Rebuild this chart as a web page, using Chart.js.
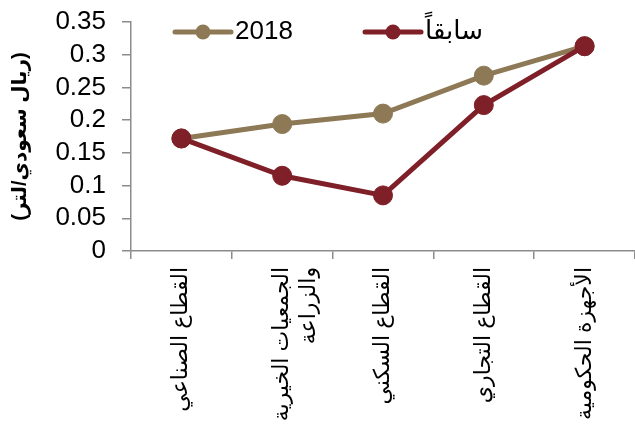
<!DOCTYPE html>
<html>
<head>
<meta charset="utf-8">
<script src="https://cdn.jsdelivr.net/npm/chart.js@4"></script>
<style>
  html, body { margin: 0; padding: 0; background: #fff; }
  #wrap { width: 635px; height: 430px; }
</style>
</head>
<body>
<div id="wrap"><canvas id="line-chart"></canvas></div>
<script>
// sectors, price per litre
const sectors = [
  "القطاع الصناعي",
  ["الجمعيات الخيرية", "والزراعة"],
  "القطاع السكني",
  "القطاع التجاري",
  "الأجهزة الحكومية",
];
const price2018 = [0.172, 0.194, 0.21, 0.268, 0.313];
const pricePrev = [0.172, 0.115, 0.085, 0.223, 0.313];
const yTicks = [0, 0.05, 0.1, 0.15, 0.2, 0.25, 0.3, 0.35];

const TAN = "#8d7955";
const RED = "#7f1f28";
const AXIS = "#8c8c8c";
const FONT = "'Liberation Sans', 'DejaVu Sans', Arial, sans-serif";

// legend: line with a dot in the middle, then the label
const lineLegend = {
  id: "lineLegend",
  afterDraw(chart) {
    const ctx = chart.ctx;
    const items = [
      { ds: 1, x: 175 },
      { ds: 0, x: 365 },
    ];
    const y = 32;
    ctx.save();
    items.forEach((it) => {
      const ds = chart.data.datasets[it.ds];
      ctx.strokeStyle = ds.borderColor;
      ctx.lineWidth = 5;
      ctx.lineCap = "round";
      ctx.beginPath();
      ctx.moveTo(it.x, y);
      ctx.lineTo(it.x + 56, y);
      ctx.stroke();
      ctx.fillStyle = ds.borderColor;
      ctx.beginPath();
      ctx.arc(it.x + 28, y, 7.5, 0, Math.PI * 2);
      ctx.fill();
      ctx.fillStyle = "#000";
      ctx.font = "26px " + FONT;
      ctx.textAlign = "left";
      ctx.textBaseline = "middle";
      ctx.fillText(ds.label, it.x + 60, y);
    });
    ctx.restore();
  },
};

const lineChart = new Chart(document.getElementById("line-chart"), {
  type: "line",
  data: {
    labels: sectors,
    datasets: [
      {
        label: "سابقاً",
        data: pricePrev,
        borderColor: RED,
        backgroundColor: RED,
        borderWidth: 5,
        pointRadius: 9.5,
        pointBorderWidth: 1,
      },
      {
        label: "2018",
        data: price2018,
        borderColor: TAN,
        backgroundColor: TAN,
        borderWidth: 5,
        pointRadius: 9.5,
        pointBorderWidth: 1,
      },
    ],
  },
  options: {
    responsive: true,
    maintainAspectRatio: false,
    animation: false,
    layout: { autoPadding: false, padding: { top: 22, left: 0, right: 0, bottom: 0 } },
    plugins: { legend: { display: false }, tooltip: { enabled: false } },
    scales: {
      x: {
        offset: true,
        grid: { offset: true, drawOnChartArea: false, color: AXIS, tickLength: 8, lineWidth: 1.5 },
        border: { color: AXIS, width: 1.5 },
        ticks: {
          autoSkip: false,
          minRotation: 90,
          maxRotation: 90,
          padding: 8,
          color: "#000",
          font: { family: FONT, size: 22 },
        },
        afterFit(scale) {
          scale.height = 179;
          scale.paddingLeft = 0;
          scale.paddingRight = 0;
        },
      },
      y: {
        min: 0,
        max: 0.35,
        grid: { drawOnChartArea: false, color: AXIS, tickLength: 9, lineWidth: 1.5 },
        border: { color: AXIS, width: 1.5 },
        ticks: {
          autoSkip: false,
          padding: 16,
          color: "#000",
          font: { family: FONT, size: 26 },
          callback: (v) => String(Math.round(v * 100) / 100),
        },
        afterBuildTicks(scale) {
          scale.ticks = yTicks.map((v) => ({ value: v }));
        },
        title: {
          display: true,
          text: "(ريال سعودي/لتر)",
          color: "#000",
          padding: { top: 8, bottom: 0 },
          font: { family: FONT, size: 20, weight: "bold" },
        },
        afterFit(scale) {
          scale.width = 131;
          scale.paddingTop = 0;
          scale.paddingBottom = 0;
        },
      },
    },
  },
  plugins: [lineLegend],
});
</script>
</body>
</html>
